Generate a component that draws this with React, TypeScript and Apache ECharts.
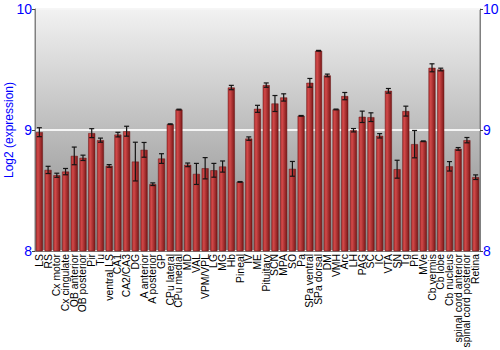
import React, { useEffect, useRef } from "react";
import * as echarts from "echarts";

const categories = [
  "LS", "RS", "Cx motor", "Cx cingulate", "OB anterior", "OB posterior", "Pir", "Tu",
  "ventral LS", "CA1", "CA2/CA3", "DG", "A anterior", "A posterior", "GP", "CPu lateral",
  "CPu medial", "MD", "VAL", "VPM/VPL", "LG", "MG", "Hb", "Pineal", "IV", "ME",
  "Pituitary", "SCN", "MPA", "SO", "Pa", "SPa ventral", "SPa dorsal", "DM", "VMH", "Arc",
  "LH", "PAG", "SC", "IC", "VTA", "SN", "Tg", "Pn", "MVe", "Cb vermis", "Cb lobe",
  "Cb nucleus", "spinal cord anterior", "spinal cord posterior", "Retina",
];

const values = [
  8.982, 8.67, 8.626, 8.656, 8.786, 8.77, 8.974, 8.916,
  8.703, 8.962, 8.99, 8.739, 8.836, 8.552, 8.764, 9.048,
  9.169, 8.712, 8.637, 8.684, 8.667, 8.698, 9.351, 8.571, 8.929, 9.175,
  9.371, 9.219, 9.269, 8.679, 9.117, 9.39, 9.655, 9.451, 9.17, 9.28,
  8.998, 9.109, 9.106, 8.952, 9.324, 8.676, 9.156, 8.883, 8.907, 9.514, 9.5,
  8.7, 8.844, 8.916, 8.61,
];

const errors = [
  0.037, 0.03, 0.017, 0.026, 0.073, 0.022, 0.037, 0.017,
  0.011, 0.019, 0.041, 0.16, 0.061, 0.011, 0.04, 0.003,
  0.003, 0.015, 0.087, 0.088, 0.057, 0.046, 0.018, 0.003, 0.014, 0.029,
  0.018, 0.066, 0.03, 0.061, 0.003, 0.036, 0.003, 0.011, 0.003, 0.03,
  0.014, 0.047, 0.036, 0.018, 0.019, 0.074, 0.041, 0.113, 0.003, 0.033, 0.011,
  0.039, 0.011, 0.022, 0.019,
];

const yTicks = { min: 8, max: 10, interval: 1 };

export default function App() {
  const ref = useRef<HTMLDivElement>(null);

  useEffect(() => {
    if (!ref.current) return;
    const chart = echarts.init(ref.current, null, { renderer: "svg" });
    const font = "Liberation Sans, Arial, sans-serif";
    const errData = values.map((v, i) => [i, v - errors[i], v + errors[i]]);

    const yBase = {
      type: "value" as const,
      min: yTicks.min,
      max: yTicks.max,
      interval: yTicks.interval,
      axisLine: { show: true, lineStyle: { color: "#808080", width: 1 } },
      axisTick: { show: true, length: 3, lineStyle: { color: "#404040" } },
      axisLabel: { color: "#0000ff", fontSize: 14, fontFamily: font, margin: 3 },
    };

    chart.setOption({
      animation: false,
      textStyle: { fontFamily: font },
      grid: {
        left: 35,
        right: 20,
        top: 9,
        bottom: 99,
        outerBoundsMode: "none",
        containLabel: false,
        show: true,
        borderColor: "#808080",
        borderWidth: 1,
        backgroundColor: new echarts.graphic.LinearGradient(0, 0, 0, 1, [
          { offset: 0, color: "#f2f2f2" },
          { offset: 1, color: "#868686" },
        ]),
      },
      xAxis: {
        type: "category",
        data: categories,
        axisLine: { show: true, lineStyle: { color: "#808080" } },
        axisTick: { show: false },
        axisLabel: {
          interval: 0,
          rotate: 90,
          color: "#000",
          fontSize: 10.4,
          fontFamily: font,
          margin: 3,
          hideOverlap: false,
        },
      },
      yAxis: [
        {
          ...yBase,
          position: "left",
          name: "Log2 (expression)",
          nameLocation: "middle",
          nameGap: 20,
          nameMoveOverlap: false,
          nameTextStyle: { color: "#0000ff", fontSize: 12, fontFamily: font },
          splitLine: { show: true, lineStyle: { color: "#ffffff", width: 2, opacity: 0.85 } },
        },
        {
          ...yBase,
          position: "right",
          splitLine: { show: false },
        },
      ],
      series: [
        {
          type: "bar",
          data: values,
          barCategoryGap: "20%",
          itemStyle: {
            color: new echarts.graphic.LinearGradient(0, 0, 1, 0, [
              { offset: 0, color: "#b83434" },
              { offset: 0.3, color: "#d04848" },
              { offset: 1, color: "#7c1818" },
            ]),
            borderColor: "#6a1212",
            borderWidth: 0.5,
          },
        },
        {
          type: "custom",
          data: errData,
          renderItem: (params: any, api: any) => {
            const x = api.value(0);
            const lo = api.coord([x, api.value(1)]);
            const hi = api.coord([x, api.value(2)]);
            const cap = 2.5;
            const style = { stroke: "#151515", lineWidth: 1.2 };
            return {
              type: "group",
              children: [
                { type: "line", shape: { x1: hi[0], y1: hi[1], x2: lo[0], y2: lo[1] }, style },
                { type: "line", shape: { x1: hi[0] - cap, y1: hi[1], x2: hi[0] + cap, y2: hi[1] }, style },
                { type: "line", shape: { x1: lo[0] - cap, y1: lo[1], x2: lo[0] + cap, y2: lo[1] }, style },
              ],
            };
          },
          z: 10,
        },
      ],
    });
    return () => chart.dispose();
  }, []);

  return (
    <div
      ref={ref}
      style={{ position: "fixed", left: 0, top: 0, width: 500, height: 350, background: "#fff" }}
    />
  );
}
